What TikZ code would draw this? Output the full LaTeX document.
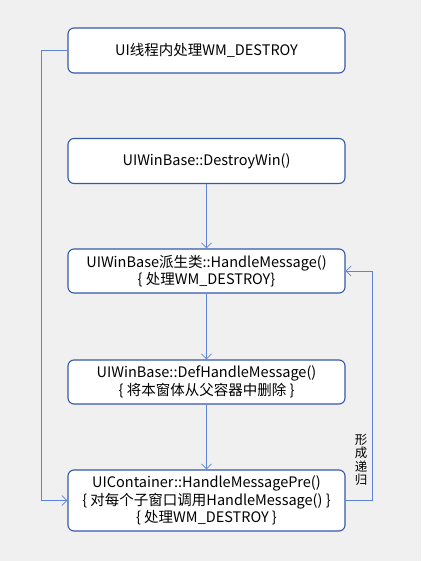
\documentclass[tikz,border=0pt]{standalone}
\usepackage{fontspec}
\setmainfont{Noto Sans CJK SC}
\usetikzlibrary{arrows.meta,positioning}
\definecolor{bgcol}{HTML}{F0F0F0}
\definecolor{boxline}{HTML}{3558A8}
\definecolor{linkcol}{HTML}{5F84D6}

\begin{document}
\begin{tikzpicture}[x=1pt,y=-1pt,
        every node/.style={font=\fontsize{14.5}{17.5}\selectfont},
        box/.style={draw=boxline,fill=white,line width=1.1pt,rounded corners=6pt,minimum width=277pt,align=center,inner sep=0pt},
        link/.style={draw=linkcol,line width=0.8pt,-{Straight Barb[length=5pt,width=10pt]}}]
        \fill[bgcol] (0,0) rectangle (421,561);
        \useasboundingbox (0,0) rectangle (421,561);
        \node[box,minimum height=45pt] (ui) at (206.5,50.5) {UI线程内处理WM\_DESTROY};
        \node[box,minimum height=45pt] (destroy) at (206.5,161) {UIWinBase::DestroyWin()};
        \node[box,minimum height=44pt] (handle) at (206.5,271) {UIWinBase派生类::HandleMessage()\\\{ 处理WM\_DESTROY\}};
        \node[box,minimum height=44pt] (def) at (206.5,382) {UIWinBase::DefHandleMessage()\\\{ 将本窗体从父容器中删除 \}};
        \node[box,minimum height=61pt] (pre) at (206.5,500.5) {UIContainer::HandleMessagePre()\\\{ 对每个子窗口调用HandleMessage() \}\\\{ 处理WM\_DESTROY \}};
        \coordinate (lt) at (41,50.5);
        \coordinate (lb) at (41,500.5);
        \coordinate (rb) at (372,500.5);
        \coordinate (rt) at (372,271);
        \draw[link] (destroy) -- (handle);
        \draw[link] (handle) -- (def);
        \draw[link] (def) -- (pre);
        \draw[link] (ui.west) -- (lt) -- (lb) -- (pre.west);
        \draw[link] (pre.east) -- (rb) -- (rt) -- (handle.east);
        \node[font=\fontsize{12.5}{13.5}\selectfont,align=center] (loop) at (361,460) {形\\成\\递\\归};
\end{tikzpicture}
\end{document}
